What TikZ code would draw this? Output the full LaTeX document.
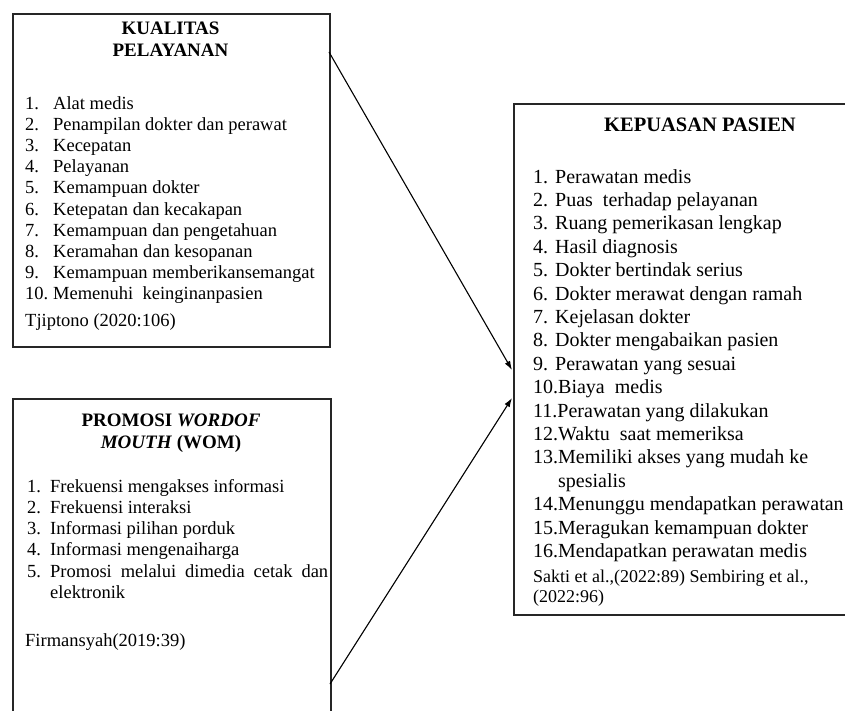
\documentclass[tikz,border=0pt]{standalone}
\usepackage{fontspec}
\setmainfont{Liberation Serif}
\usetikzlibrary{arrows.meta}
\newcommand{\nomor}[1]{\makebox[22pt][l]{#1}}

\begin{document}
\begin{tikzpicture}[x=1pt,y=-1pt,
	kotak/.style={draw=black!85,line width=1.8pt,anchor=north west,inner sep=0pt},
	judul/.style={anchor=base,inner sep=0pt,font=\bfseries\fontsize{19}{22}\selectfont},
	isi/.style={anchor=base west,inner sep=0pt,font=\fontsize{18.5}{21.1}\selectfont},
	isikanan/.style={anchor=base west,inner sep=0pt,font=\fontsize{20}{23.4}\selectfont},
	panah/.style={-{Latex[length=9pt,width=6pt]},line width=1.1pt}]
\useasboundingbox (0,0) rectangle (845,711);
\node[kotak,minimum width=317pt,minimum height=333pt] (kualitas) at (12,13) {};
\node[kotak,minimum width=318pt,minimum height=330pt] (promosi) at (12,398) {};
\node[kotak,minimum width=374pt,minimum height=511pt] (kepuasan) at (513,103) {};
\node[judul] (judulkualitas) at (170.5,34.3) {\begin{tabular}[t]{@{}c@{}}KUALITAS\\PELAYANAN\end{tabular}};
\node[isi] (daftarkualitas) at (25,109.6) {\begin{tabular}[t]{@{}p{28pt}@{}l@{}}
	1. & Alat medis\\
	2. & Penampilan dokter dan perawat\\
	3. & Kecepatan\\
	4. & Pelayanan\\
	5. & Kemampuan dokter\\
	6. & Ketepatan dan kecakapan\\
	7. & Kemampuan dan pengetahuan\\
	8. & Keramahan dan kesopanan\\
	9. & Kemampuan memberikansemangat\\
	10. & Memenuhi\ \ keinginanpasien
\end{tabular}};
\node[isi] (sumberkualitas) at (25,326.6) {Tjiptono (2020:106)};
\node[judul] (judulpromosi) at (171,426.3) {\begin{tabular}[t]{@{}c@{}}PROMOSI \textit{WORDOF}\\\textit{MOUTH} (WOM)\end{tabular}};
\node[isi] (daftarpromosi) at (27,492.6) {\begin{tabular}[t]{@{}p{23pt}@{}l@{}}
	1. & Frekuensi mengakses informasi\\
	2. & Frekuensi interaksi\\
	3. & Informasi pilihan porduk\\
	4. & Informasi mengenaiharga\\
	5. & \makebox[278pt][s]{Promosi melalui dimedia cetak dan}\\
	& elektronik
\end{tabular}};
\node[isi] (sumberpromosi) at (25,646.6) {Firmansyah(2019:39)};
\node[judul,font=\bfseries\fontsize{20.5}{23}\selectfont] (judulkepuasan) at (700,131.8) {KEPUASAN PASIEN};
\node[isikanan] (daftarkepuasan) at (533,183.1) {\begin{tabular}[t]{@{}l@{}}
	\nomor{1.}Perawatan medis\\
	\nomor{2.}Puas\ \ terhadap pelayanan\\
	\nomor{3.}Ruang pemerikasan lengkap\\
	\nomor{4.}Hasil diagnosis\\
	\nomor{5.}Dokter bertindak serius\\
	\nomor{6.}Dokter merawat dengan ramah\\
	\nomor{7.}Kejelasan dokter\\
	\nomor{8.}Dokter mengabaikan pasien\\
	\nomor{9.}Perawatan yang sesuai\\
	10.Biaya\ \ medis\\
	11.Perawatan yang dilakukan\\
	12.Waktu\ \ saat memeriksa\\
	13.Memiliki akses yang mudah ke\\
	\hspace*{25pt}spesialis\\
	14.Menunggu mendapatkan perawatan\\
	15.Meragukan kemampuan dokter\\
	16.Mendapatkan perawatan medis
\end{tabular}};
\node[isi,font=\fontsize{18}{20.5}\selectfont] (sumberkepuasan) at (533,582) {\begin{tabular}[t]{@{}l@{}}Sakti et al.,(2022:89) Sembiring et al.,\\(2022:96)\end{tabular}};
\coordinate (keluarkualitas) at (329,52);
\coordinate (keluarpromosi) at (330,684);
\coordinate (masuk1) at (512,370);
\coordinate (masuk2) at (512,398);
\draw[panah] (keluarkualitas) -- (masuk1);
\draw[panah] (keluarpromosi) -- (masuk2);
\end{tikzpicture}
\end{document}
